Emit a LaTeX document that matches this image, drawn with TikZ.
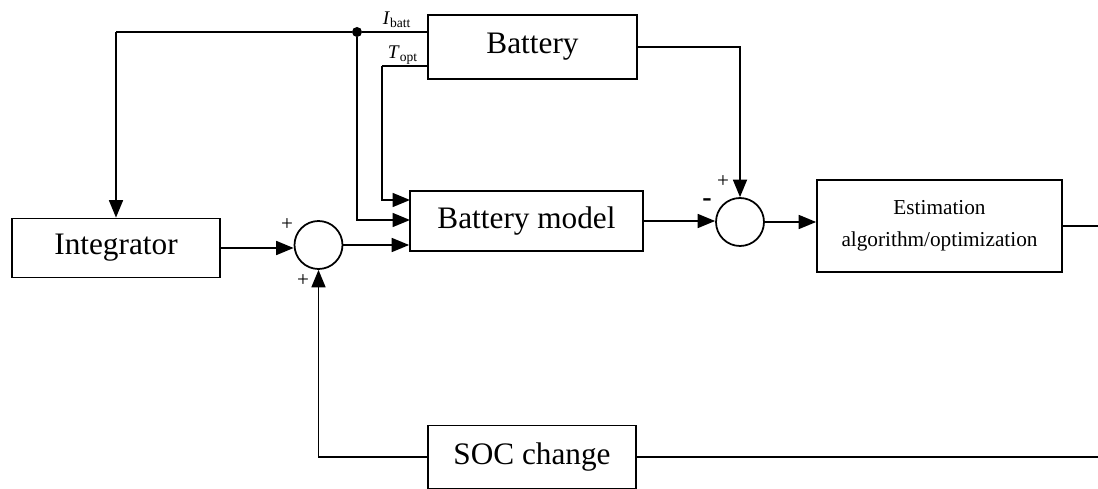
\documentclass[tikz,border=0pt]{standalone}
\usepackage{fontspec}
\setmainfont{Liberation Serif}
\usetikzlibrary{positioning,arrows.meta,calc}
\tikzset{
  blk/.style={draw,line width=1pt,inner sep=0pt,font=\fontsize{17.8}{21}\selectfont},
  sumj/.style={circle,draw,line width=1pt,minimum size=0.96cm,inner sep=0pt},
  sig/.style={line width=1pt},
  arr/.style={sig,-{Triangle[length=3.5mm,width=2.8mm]}},
  sgn/.style={font=\fontsize{12}{14}\selectfont,inner sep=0pt},   % + / - at junctions
  lbl/.style={font=\fontsize{11}{13}\selectfont,inner sep=0pt},   % signal names
  dotj/.style={circle,fill,inner sep=0pt,minimum size=0.2cm},     % branch point
}

\begin{document}
\begin{tikzpicture}[x=0.02cm,y=-0.02cm]
  \useasboundingbox (0,0) rectangle (1098,489);
  % blocks
  \node[blk,minimum width=4.18cm,minimum height=1.28cm] (bat) at (532.5,47) {Battery};
  \node[blk,minimum width=4.16cm,minimum height=1.18cm] (int) at (116,248) {Integrator};
  \node[blk,minimum width=4.66cm,minimum height=1.2cm] (bm) at (526.5,221) {Battery model};
  \node[blk,minimum width=4.9cm,minimum height=1.84cm,align=center,
        font=\fontsize{12.1}{18.2}\selectfont] (est) at (939.5,226)
        {\raisebox{2pt}{Estimation}\\[0.3pt]\raisebox{2pt}{algorithm/optimization}};
  \node[blk,minimum width=4.16cm,minimum height=1.26cm] (soc) at (532,457) {SOC change};
  \node[sumj] (s1) at (318.5,245) {};
  \node[sumj] (s2) at (740,222) {};
  % branch points and free ends
  \coordinate (tl) at (116,32);
  \node[dotj] (jn) at (357,32) {};
  \coordinate (tk) at (382,66);
  \coordinate (bm1) at (410,200);
  \coordinate (bm2) at (410,220);
  \coordinate (outE) at (1098,226);
  \coordinate (outS) at (1098,457);
  % battery inputs
  \draw[sig] (tl) -- (jn) -- (bat.west |- jn);
  \draw[sig] (bat.west |- tk) -- (tk);
  \node[lbl] (ib) at (397,20) {\textit{I}\textsubscript{batt}};
  \node[lbl] (to) at (403,55) {\textit{T}\textsubscript{opt}};
  % feed to integrator and model
  \draw[arr] (tl) -- (int.north);
  \draw[arr] (jn) -- (jn |- bm2) -- (bm2);
  \draw[arr] (tk) -- (tk |- bm1) -- (bm1);
  \draw[arr] (int.east) -- (s1.west |- int.east);
  \draw[arr] (s1.east) -- (bm.west |- s1.east);
  % error junction
  \draw[arr] (bat.east) -| (s2.north);
  \draw[arr] (bm.east) -- (s2.west |- bm.east);
  \draw[arr] (s2.east) -- (est.west |- s2.east);
  \draw[sig] (est.east) -- (outE);
  % SOC feedback
  \draw[arr] (soc.west) -| (s1.south);
  \draw[sig] (soc.east) -- (outS);
  % signs
  \node[sgn] (p1) at (287,225) {+};
  \node[sgn] (p2) at (303,281) {+};
  \node[sgn] (p3) at (723,182) {+};
  \node[sgn,font=\fontsize{16}{18}\selectfont\bfseries] (m1) at (707,203) {-};
\end{tikzpicture}
\end{document}
